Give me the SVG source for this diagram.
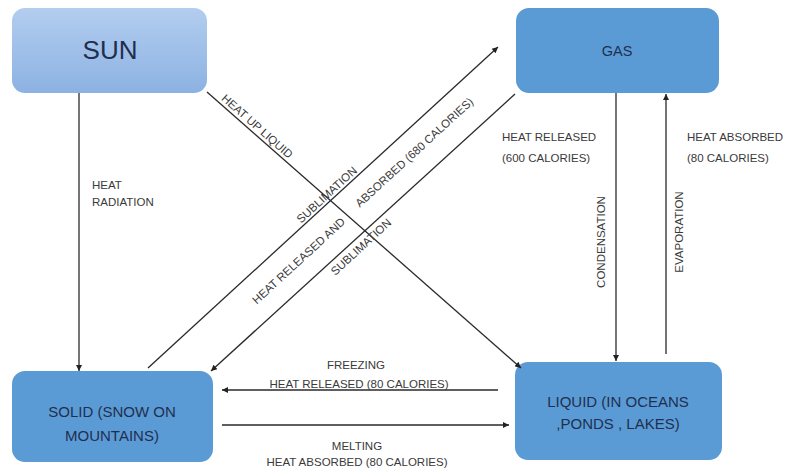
<svg xmlns="http://www.w3.org/2000/svg" width="786" height="468" viewBox="0 0 786 468">
<defs>
<linearGradient id="sunGrad" x1="0" y1="0" x2="0" y2="1">
<stop offset="0" stop-color="#b3cdef"/>
<stop offset="1" stop-color="#8cb2e2"/>
</linearGradient>
<marker id="arr" viewBox="0 0 10 10" refX="10" refY="5" markerWidth="7" markerHeight="6" markerUnits="userSpaceOnUse" orient="auto">
<path d="M0,0 L10,5 L0,10 z" fill="#222"/>
</marker>
<style>
.node{fill:#5b9bd5;}
.ntext{font-family:"Liberation Sans",Arial,sans-serif;fill:#1f2f4f;text-anchor:middle;}
.lbl{font-family:"Liberation Sans",Arial,sans-serif;font-size:11.5px;fill:#3a3a3a;}
.mid{text-anchor:middle;}
.conn line{stroke:#2a2a2a;stroke-width:1.3;marker-end:url(#arr);}
</style>
</defs>
<rect width="786" height="468" fill="#ffffff"/>

<g id="sun">
<rect x="12" y="8" width="195" height="85" rx="13" fill="url(#sunGrad)"/>
<text class="ntext" x="110" y="59" font-size="26">SUN</text>
</g>
<g id="gas">
<rect class="node" x="516" y="8" width="203" height="85" rx="13"/>
<text class="ntext" x="617" y="56" font-size="14.5">GAS</text>
</g>
<g id="solid">
<rect class="node" x="12" y="371" width="201" height="91" rx="13"/>
<text class="ntext" x="112" y="417" font-size="15">SOLID (SNOW ON</text>
<text class="ntext" x="112" y="441" font-size="15">MOUNTAINS)</text>
</g>
<g id="liquid">
<rect class="node" x="515" y="362" width="207" height="98" rx="13"/>
<text class="ntext" x="618" y="407" font-size="15">LIQUID (IN OCEANS</text>
<text class="ntext" x="618" y="429" font-size="15">,PONDS , LAKES)</text>
</g>

<g id="connectors" class="conn">
<line x1="79" y1="93" x2="79" y2="371"/>
<line x1="207" y1="92" x2="521" y2="368"/>
<line x1="148" y1="368" x2="498" y2="47"/>
<line x1="515" y1="94" x2="211" y2="371"/>
<line x1="616" y1="93" x2="616" y2="361"/>
<line x1="666" y1="354" x2="666" y2="94"/>
<line x1="498" y1="390" x2="222" y2="390"/>
<line x1="222" y1="425" x2="509" y2="425"/>
</g>

<g id="labels">
<text class="lbl" x="92" y="189">HEAT</text>
<text class="lbl" x="92" y="206">RADIATION</text>

<text class="lbl mid" transform="translate(252.3,131.9) rotate(41.4)" x="0" y="-3.5">HEAT UP LIQUID</text>
<text class="lbl mid" transform="translate(331.1,199.6) rotate(-42.6)" x="0" y="-2.5">SUBLIMATION</text>
<text class="lbl mid" transform="translate(283.1,243.8) rotate(-42.6)" x="0" y="27">HEAT RELEASED AND</text>
<text class="lbl mid" transform="translate(399.7,136.5) rotate(-42.6)" x="0" y="25.5">ABSORBED (680 CALORIES)</text>
<text class="lbl mid" transform="translate(323.7,206.4) rotate(-42.6)" x="0" y="59">SUBLIMATION</text>

<text class="lbl" x="502" y="141" font-size="11">HEAT RELEASED</text>
<text class="lbl" x="502" y="162" font-size="11">(600 CALORIES)</text>
<text class="lbl" x="687" y="141" font-size="11">HEAT ABSORBED</text>
<text class="lbl" x="687" y="162" font-size="11">(80 CALORIES)</text>

<text class="lbl mid" transform="translate(605,242) rotate(-90)" x="0" y="0">CONDENSATION</text>
<text class="lbl mid" transform="translate(683,232) rotate(-90)" x="0" y="0">EVAPORATION</text>

<text class="lbl mid" x="356" y="369" font-size="12">FREEZING</text>
<text class="lbl mid" x="359" y="388" font-size="12">HEAT RELEASED (80 CALORIES)</text>
<text class="lbl mid" x="357" y="450" font-size="12">MELTING</text>
<text class="lbl mid" x="357" y="466" font-size="12">HEAT ABSORBED (80 CALORIES)</text>
</g>
</svg>
